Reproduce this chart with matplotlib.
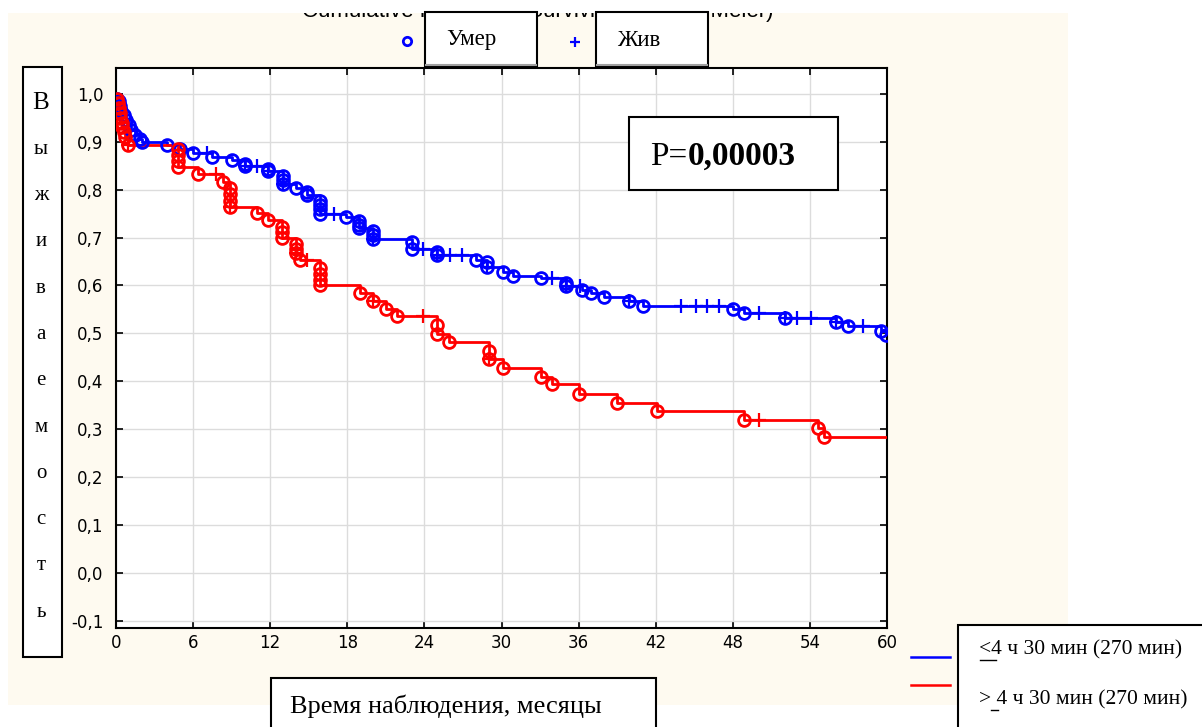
import numpy as np
import matplotlib.pyplot as plt
from matplotlib.patches import Rectangle
from matplotlib.lines import Line2D

# ---- data ----
# group <= 270 min (blue): deaths (time, survival after event), censored times
blue_death_t = [0.1, 0.2, 0.3, 0.4, 0.6, 0.8, 1.0, 1.2, 1.5, 1.9, 2.0, 4.0, 5.0, 6.0, 7.5, 9.0,
                10.0, 10.0, 11.8, 11.8, 13.0, 13.0, 13.0, 14.0, 14.9, 14.9, 15.9, 15.9, 15.9, 15.9,
                17.9, 18.9, 18.9, 18.9, 20.0, 20.0, 20.0, 23.0, 23.0, 25.0, 25.0, 28.0, 28.9, 28.9,
                30.1, 30.9, 33.1, 35.0, 35.0, 36.3, 37.0, 38.0, 39.9, 41.0, 48.0, 48.9, 52.1, 56.0,
                57.0, 59.5, 59.9]
blue_death_s = [0.99, 0.985, 0.975, 0.965, 0.955, 0.945, 0.935, 0.925, 0.915, 0.906, 0.900, 0.894,
                0.885, 0.877, 0.868, 0.862, 0.853, 0.849, 0.843, 0.838, 0.828, 0.820, 0.812, 0.803,
                0.796, 0.788, 0.777, 0.768, 0.759, 0.750, 0.743, 0.735, 0.727, 0.720, 0.713, 0.705,
                0.697, 0.690, 0.677, 0.670, 0.664, 0.654, 0.648, 0.638, 0.628, 0.619, 0.615, 0.605,
                0.598, 0.590, 0.584, 0.576, 0.567, 0.558, 0.550, 0.542, 0.533, 0.524, 0.515, 0.506,
                0.497]
blue_cens_t = [7.1, 10.0, 11.0, 11.8, 13.0, 17.0, 20.0, 23.9, 25.0, 26.0, 26.9, 28.9, 33.9, 35.0,
               36.1, 39.9, 44.0, 45.1, 46.0, 46.9, 50.0, 52.1, 53.0, 54.1, 56.0, 58.1]

# group > 270 min (red)
red_death_t = [0.05, 0.15, 0.25, 0.3, 0.35, 0.45, 0.5, 0.6, 0.7, 0.9, 4.8, 4.8, 4.8, 4.8, 6.4, 8.3,
               8.9, 8.9, 8.9, 8.9, 11.0, 11.8, 12.9, 12.9, 12.9, 14.0, 14.0, 14.0, 14.3, 15.9, 15.9,
               15.9, 15.9, 19.0, 20.0, 21.0, 21.9, 25.0, 25.0, 25.9, 29.0, 29.0, 30.1, 33.1, 33.9,
               36.0, 39.0, 42.1, 48.9, 54.6, 55.1]
red_death_s = [0.99, 0.98, 0.97, 0.96, 0.95, 0.94, 0.93, 0.92, 0.91, 0.893, 0.885, 0.873, 0.860,
               0.848, 0.832, 0.816, 0.803, 0.790, 0.777, 0.764, 0.751, 0.737, 0.722, 0.711, 0.700,
               0.687, 0.677, 0.668, 0.653, 0.637, 0.624, 0.612, 0.601, 0.585, 0.568, 0.551, 0.537,
               0.517, 0.498, 0.481, 0.463, 0.446, 0.428, 0.410, 0.394, 0.373, 0.355, 0.337, 0.320,
               0.303, 0.283]
red_cens_t = [0.9, 7.8, 8.9, 14.0, 14.9, 20.0, 23.9, 29.0, 50.0]

x_ticks = [0, 6, 12, 18, 24, 30, 36, 42, 48, 54, 60]
y_ticks = [-0.1, 0.0, 0.1, 0.2, 0.3, 0.4, 0.5, 0.6, 0.7, 0.8, 0.9, 1.0]
t_end = 60

ylabel_letters = ['В', 'ы', 'ж', 'и', 'в', 'а', 'е', 'м', 'о', 'с', 'т', 'ь']
legend_labels = ['4 ч 30 мин (270 мин)', '4 ч 30 мин (270 мин)']

W, H = 1202, 727
BLUE = '#0000ff'
RED = '#ff0000'
SERIF = 'Liberation Serif'
SANS = 'DejaVu Sans'


def fx(x):
    return x / W


def fy(y):
    return 1 - y / H


def fig_rect(x0, y0, x1, y1, fc='white', ec='black', z=5, lw=1.5):
    r = Rectangle((fx(x0), fy(y1)), fx(x1) - fx(x0), fy(y0) - fy(y1), transform=fig.transFigure,
                  facecolor=fc, edgecolor=ec, lw=lw, zorder=z)
    fig.add_artist(r)
    return r


fig = plt.figure(figsize=(W / 100, H / 100), dpi=100)
fig.patch.set_facecolor('white')

# cream panel behind the chart
fig_rect(8, 13, 1068, 705, fc='#fefaf0', ec='none', z=-2, lw=0)

# title, cut off at the top: only the bottom of the glyphs shows
fig.text(fx(538), fy(17), 'Cumulative Proportion Surviving (Kaplan-Meier)', ha='center',
         va='baseline', fontsize=16, family='Liberation Sans', zorder=-1)
fig_rect(0, -5, W, 13, fc='white', ec='none', z=0.5, lw=0)

ax = fig.add_axes([fx(116), fy(628), fx(887) - fx(116), fy(68) - fy(628)])
ax.set_facecolor('white')
ax.set_xlim(0, 60)
ax.set_ylim(-0.115, 1.054)
ax.set_xticks(x_ticks)
ax.set_yticks(y_ticks)
ax.set_xticklabels([str(t) for t in x_ticks], fontsize=12, family=SANS)
ax.set_yticklabels([f'{v:.1f}'.replace('.', ',') for v in y_ticks], fontsize=12, family=SANS)
ax.tick_params(direction='in', length=5, width=1.2, top=True, right=True)
ax.tick_params(axis='x', pad=4)
ax.tick_params(axis='y', pad=9)
ax.grid(True, color='#dcdcdc', lw=1)
ax.set_axisbelow(True)
for sp in ax.spines.values():
    sp.set_linewidth(1.5)


def km_curve(death_t, death_s, cens_t, color):
    tt = np.array([0] + death_t + [t_end])
    ss = np.array([1.0] + death_s + [death_s[-1]])
    ax.plot(tt, ss, drawstyle='steps-post', color=color, lw=2, zorder=3)
    ax.plot(death_t, death_s, 'o', mfc='none', mec=color, ms=8.5, mew=2, zorder=4)
    idx = np.searchsorted(np.array(death_t), cens_t, side='right')
    cs = ss[idx]
    ax.plot(cens_t, cs, '+', color=color, ms=10, mew=1.6, zorder=4)


km_curve(blue_death_t, blue_death_s, blue_cens_t, BLUE)
km_curve(red_death_t, red_death_s, red_cens_t, RED)

# top marker legend
fig.add_artist(Line2D([fx(407)], [fy(41)], marker='o', mfc='none', mec=BLUE, ms=6, mew=2,
                      transform=fig.transFigure))
fig.add_artist(Line2D([fx(575)], [fy(42)], marker='+', color=BLUE, ms=7, mew=1.6,
                      transform=fig.transFigure))
for x0, x1, lab in [(425, 537, 'Умер'), (596, 708, 'Жив')]:
    fig_rect(x0, 12, x1, 67)
    fig.add_artist(Line2D([fx(x0 + 1), fx(x1 - 1)], [fy(65), fy(65)], color='#a0a0a0', lw=1.5,
                          transform=fig.transFigure, zorder=6))
    fig.text(fx(x0 + 21), fy(40), lab, ha='left', va='center', fontsize=16.5, family=SERIF, zorder=7)

# vertical y-label box
fig_rect(23, 67, 62, 657)
for i, ch in enumerate(ylabel_letters):
    fig.text(fx(41), fy(103 + i * 46.3), ch, ha='center', va='center',
             fontsize=18 if i == 0 else 15, family=SERIF, zorder=7)

# p-value box
fig_rect(629, 117, 838, 190)
fig.text(fx(650), fy(165), 'P=', ha='left', va='baseline', fontsize=24, family=SERIF, zorder=7)
fig.text(fx(688), fy(165), '0,00003', ha='left', va='baseline', fontsize=24, family=SERIF,
         weight='bold', zorder=7)

# x-label: hidden "Time" behind the box, only its top shows
fig.text(fx(490), fy(692), 'Time', ha='center', va='center', fontsize=16,
         family='Liberation Sans', zorder=3)
fig_rect(271, 678, 656, 740)
fig.text(fx(290), fy(706), 'Время наблюдения, месяцы', ha='left', va='center', fontsize=19,
         family=SERIF, zorder=7)

# bottom right group legend
fig.add_artist(Line2D([fx(911), fx(950)], [fy(657), fy(657)], color=BLUE, lw=1.8,
                      transform=fig.transFigure))
fig.add_artist(Line2D([fx(911), fx(950)], [fy(685), fy(685)], color=RED, lw=1.8,
                      transform=fig.transFigure))
fig_rect(958, 625, 1210, 740)
fig.text(fx(979), fy(650), '<' + legend_labels[0], ha='left', va='center', fontsize=15.5,
         family=SERIF, zorder=7)
fig.text(fx(979), fy(700), '>' + ' ' + legend_labels[1], ha='left', va='center', fontsize=15.5,
         family=SERIF, zorder=7)
fig.add_artist(Line2D([fx(980), fx(996)], [fy(660), fy(660)], color='black', lw=1,
                      transform=fig.transFigure, zorder=8))
fig.add_artist(Line2D([fx(991), fx(998)], [fy(710), fy(710)], color='black', lw=1,
                      transform=fig.transFigure, zorder=8))

fig.savefig('out.png', dpi=100, facecolor='white')
